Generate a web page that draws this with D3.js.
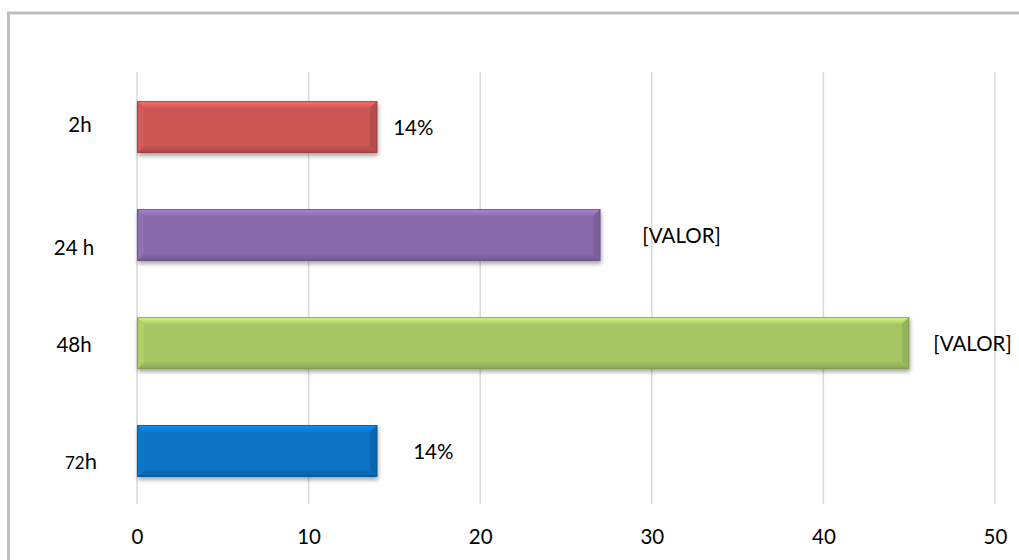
<!DOCTYPE html>
<html>
<head>
<meta charset="utf-8">
<script src="https://cdn.jsdelivr.net/npm/d3@7"></script>
<style>
  html, body { margin: 0; padding: 0; background: #ffffff; }
  svg { display: block; }
  text { font-family: Lato, "Open Sans", sans-serif; fill: #000; }
</style>
</head>
<body>
<svg id="chart" width="1019" height="560"></svg>
<script>
// Categories (top to bottom) and their values
const categories = ["2h", "24 h", "48h", "72h"];
const values = [14, 27, 45, 14];
const valueLabels = ["14%", "[VALOR]", "[VALOR]", "14%"];
const xTicks = [0, 10, 20, 30, 40, 50];

// Bar fill colours
const barColors = ["#CB5553", "#886AAA", "#A6C564", "#0973C5"];

// Hand-placed label nudges (px)
const valueLabelDx = [16, 42, 24, 36];
const catLabelDx = [3, -3, -3, 4];
const catLabelDy = [5, 20, 9, 18];

const W = 1019, H = 560;
const FONT = "20.5px";
const svg = d3.select("#chart");

// Chart frame
svg.append("rect")
  .attr("x", 8.5).attr("y", 13)
  .attr("width", W + 10).attr("height", H + 10)
  .attr("fill", "#fff").attr("stroke", "#BFBFBF").attr("stroke-width", 3);

const x = d3.scaleLinear().domain([0, 50]).range([137, 995]);
const y = d3.scaleBand().domain(categories).range([73, 505])
  .paddingInner(0.52).paddingOuter(0.26);

// Drop shadow for bars
const defs = svg.append("defs");
const f = defs.append("filter").attr("id", "shadow")
  .attr("x", "-5%").attr("y", "-20%").attr("width", "110%").attr("height", "150%");
f.append("feDropShadow").attr("dx", 1).attr("dy", 3).attr("stdDeviation", 2.2)
  .attr("flood-color", "#000").attr("flood-opacity", 0.35);

// Vertical gridlines
svg.append("g").selectAll("line").data(xTicks).join("line")
  .attr("x1", d => x(d)).attr("x2", d => x(d))
  .attr("y1", 72).attr("y2", 504)
  .attr("stroke", "#D9D9D9").attr("stroke-width", 1.5);

// X axis tick labels
const xAxis = d3.axisBottom(x).tickValues(xTicks).tickSize(0).tickPadding(0);
const gx = svg.append("g").attr("transform", "translate(0,529)").call(xAxis);
gx.select(".domain").remove();
gx.selectAll("text")
  .attr("dy", "0.71em")
  .style("font-family", "Lato, 'Open Sans', sans-serif")
  .style("font-size", FONT).attr("fill", "#000");

// Bars with bevel
const bev = 7;
const bars = svg.append("g").selectAll("g.bar")
  .data(categories.map((c, i) => ({ c, v: values[i], i })))
  .join("g").attr("class", "bar");

bars.each(function(d) {
  const g = d3.select(this);
  const x0 = x(0), x1 = x(d.v);
  const y0 = y(d.c), y1 = y0 + y.bandwidth();
  const col = d3.color(barColors[d.i]);
  g.append("rect")
    .attr("x", x0).attr("y", y0).attr("width", x1 - x0).attr("height", y1 - y0)
    .attr("fill", col).attr("filter", "url(#shadow)");

  const gid = "topg" + d.i;
  const lg = defs.append("linearGradient").attr("id", gid)
    .attr("x1", 0).attr("y1", 0).attr("x2", 0).attr("y2", 1);
  lg.append("stop").attr("offset", 0).attr("stop-color", col.brighter(0.7));
  lg.append("stop").attr("offset", 0.45).attr("stop-color", col.brighter(0.45));
  lg.append("stop").attr("offset", 1).attr("stop-color", col.brighter(0.08));

  const bid = "botg" + d.i;
  const lb = defs.append("linearGradient").attr("id", bid)
    .attr("x1", 0).attr("y1", 0).attr("x2", 0).attr("y2", 1);
  lb.append("stop").attr("offset", 0).attr("stop-color", col.darker(0.05));
  lb.append("stop").attr("offset", 1).attr("stop-color", col.darker(0.5));

  const poly = pts => pts.map(p => p.join(",")).join(" ");
  // top bevel
  g.append("polygon").attr("points", poly([[x0, y0], [x1, y0], [x1 - bev, y0 + bev], [x0 + bev, y0 + bev]]))
    .attr("fill", `url(#${gid})`);
  // bottom bevel
  g.append("polygon").attr("points", poly([[x0, y1], [x1, y1], [x1 - bev, y1 - bev], [x0 + bev, y1 - bev]]))
    .attr("fill", `url(#${bid})`);
  // left bevel
  g.append("polygon").attr("points", poly([[x0, y0], [x0 + bev, y0 + bev], [x0 + bev, y1 - bev], [x0, y1]]))
    .attr("fill", col.brighter(0.15));
  // right bevel
  g.append("polygon").attr("points", poly([[x1, y0], [x1 - bev, y0 + bev], [x1 - bev, y1 - bev], [x1, y1]]))
    .attr("fill", col.darker(0.3));
  // outline
  g.append("rect")
    .attr("x", x0 + 0.5).attr("y", y0 + 0.5).attr("width", x1 - x0 - 1).attr("height", y1 - y0 - 1)
    .attr("fill", "none").attr("stroke", col.darker(0.7)).attr("stroke-width", 1).attr("stroke-opacity", 0.8);
});

// Value labels
svg.append("g").selectAll("text")
  .data(categories.map((c, i) => ({ c, v: values[i], i })))
  .join("text")
  .attr("x", d => x(d.v) + valueLabelDx[d.i])
  .attr("y", d => y(d.c) + y.bandwidth() / 2 + 7.5)
  .style("font-size", FONT)
  .text(d => valueLabels[d.i]);

// Category labels
const cl = svg.append("g").selectAll("text")
  .data(categories.map((c, i) => ({ c, i })))
  .join("text")
  .attr("text-anchor", "middle")
  .attr("x", d => 77 + catLabelDx[d.i])
  .attr("y", d => y(d.c) + y.bandwidth() / 2 + catLabelDy[d.i])
  .style("font-size", FONT);

cl.each(function(d) {
  const t = d3.select(this);
  if (d.c === "72h") {
    t.append("tspan").style("font-size", "17px").text("72");
    t.append("tspan").style("font-size", "22px").text("h");
  } else {
    t.text(d.c);
  }
});
</script>
</body>
</html>
